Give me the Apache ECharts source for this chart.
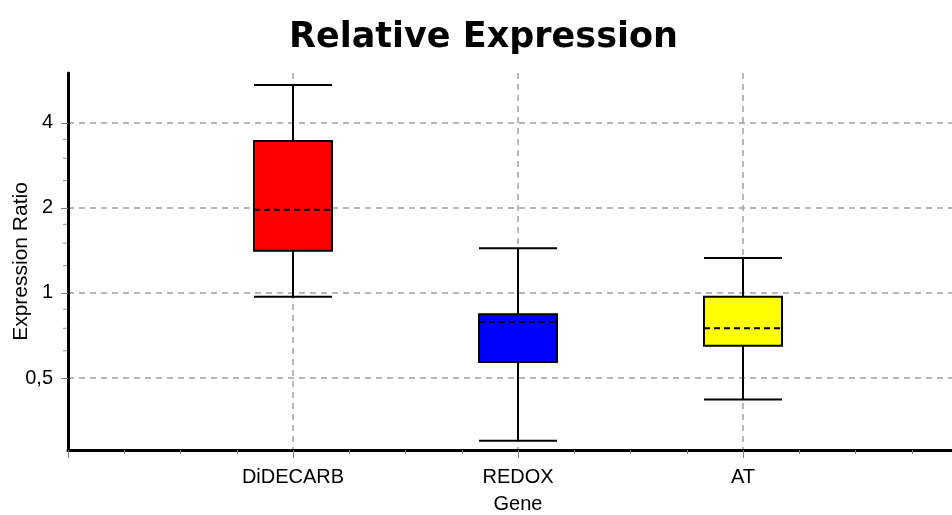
<!DOCTYPE html>
<html>
<head>
<meta charset="utf-8">
<script src="https://cdn.jsdelivr.net/npm/echarts@6/dist/echarts.min.js"></script>
<style>html,body{margin:0;padding:0;background:#fff}#chart{width:952px;height:515px}</style>
</head>
<body>
<div id="chart"></div>
<script>
const categories = ['DiDECARB', 'REDOX', 'AT'];
const lowValues = [0.97, 0.30, 0.42];
const q1Values = [1.41, 0.57, 0.65];
const medianValues = [1.97, 0.79, 0.75];
const q3Values = [3.45, 0.84, 0.97];
const highValues = [5.45, 1.44, 1.33];
const boxColors = ['#ff0000', '#0000ff', '#ffff00'];
const yTickValues = [0.5, 1, 2, 4];
const yMinorTickValues = [0.625, 0.75, 0.875, 1.25, 1.5, 1.75, 2.5, 3, 3.5];

const boxData = categories.map((c, i) => [i + 1, lowValues[i], q1Values[i], medianValues[i], q3Values[i], highValues[i]]);
const FONT = '"Liberation Sans", Arial, sans-serif';
const gridLine = { color: '#a0a0a0', width: 1.5, type: [6, 5] };

const chart = echarts.init(document.getElementById('chart'));
chart.setOption({
  animation: false,
  backgroundColor: '#fff',
  title: {
    text: 'Relative Expression',
    left: 289, top: 20, padding: 0,
    textStyle: { fontFamily: '"DejaVu Sans", Verdana, sans-serif', fontWeight: 'bold', fontSize: 35, color: '#000' }
  },
  grid: { left: 68, top: 73, width: 900, height: 377, containLabel: false, outerBoundsMode: 'none' },
  xAxis: {
    type: 'value', min: 0, max: 4, interval: 1,
    name: 'Gene', nameLocation: 'middle', nameGap: 44, nameMoveOverlap: false,
    nameTextStyle: { fontFamily: FONT, fontSize: 20, color: '#000' },
    axisLine: { show: true, onZero: false, lineStyle: { color: '#000', width: 3 } },
    axisTick: { show: true, length: 8, lineStyle: { color: '#808080', width: 1 } },
    minorTick: { show: true, splitNumber: 4, length: 4, lineStyle: { color: '#808080', width: 1 } },
    axisLabel: { fontFamily: FONT, fontSize: 20, color: '#000', margin: 17,
      formatter: v => categories[Math.round(v) - 1] || '' },
    splitLine: { show: true, showMinLine: false, showMaxLine: false, lineStyle: gridLine }
  },
  yAxis: {
    type: 'log', logBase: 2, min: 0.278, max: 6.01,
    name: 'Expression Ratio', nameLocation: 'middle', nameGap: 36, nameMoveOverlap: false,
    nameTextStyle: { fontFamily: FONT, fontSize: 21, color: '#000' },
    axisLine: { show: true, onZero: false, lineStyle: { color: '#000', width: 3 } },
    axisTick: { show: true, length: 7, customValues: yTickValues, lineStyle: { color: '#808080', width: 1 } },
    axisLabel: { fontFamily: FONT, fontSize: 20, color: '#000', margin: 15, customValues: yTickValues,
      formatter: v => String(+v.toFixed(3)).replace('.', ',') },
    splitLine: { show: true, lineStyle: gridLine }
  },
  series: [
    {
      type: 'custom',
      clip: false,
      data: yMinorTickValues.map(v => [0, v]),
      encode: { x: 0, y: 1 },
      renderItem: function (params, api) {
        const p = api.coord([api.value(0), api.value(1)]);
        return { type: 'line', shape: { x1: p[0] - 5, y1: p[1], x2: p[0] - 1, y2: p[1] },
          style: { stroke: '#909090', lineWidth: 1 } };
      }
    },
    {
      type: 'custom',
      data: boxData,
      encode: { x: 0, y: [1, 2, 3, 4, 5] },
      renderItem: function (params, api) {
        const x = api.value(0);
        const lo = api.coord([x, api.value(1)]);
        const q1 = api.coord([x, api.value(2)]);
        const md = api.coord([x, api.value(3)]);
        const q3 = api.coord([x, api.value(4)]);
        const hi = api.coord([x, api.value(5)]);
        const hw = 39;
        const cx = lo[0];
        const ls = { stroke: '#000', lineWidth: 2 };
        return { type: 'group', children: [
          { type: 'line', shape: { x1: cx, y1: hi[1], x2: cx, y2: q3[1] }, style: ls },
          { type: 'line', shape: { x1: cx, y1: q1[1], x2: cx, y2: lo[1] }, style: ls },
          { type: 'line', shape: { x1: cx - hw, y1: hi[1], x2: cx + hw, y2: hi[1] }, style: ls },
          { type: 'line', shape: { x1: cx - hw, y1: lo[1], x2: cx + hw, y2: lo[1] }, style: ls },
          { type: 'rect', shape: { x: cx - hw, y: q3[1], width: 2 * hw, height: q1[1] - q3[1] },
            style: { fill: boxColors[params.dataIndex], stroke: '#000', lineWidth: 2 } },
          { type: 'line', shape: { x1: cx - hw, y1: md[1], x2: cx + hw, y2: md[1] },
            style: { stroke: '#000', lineWidth: 2, lineDash: [6, 4] } }
        ] };
      }
    }
  ]
});
</script>
</body>
</html>
